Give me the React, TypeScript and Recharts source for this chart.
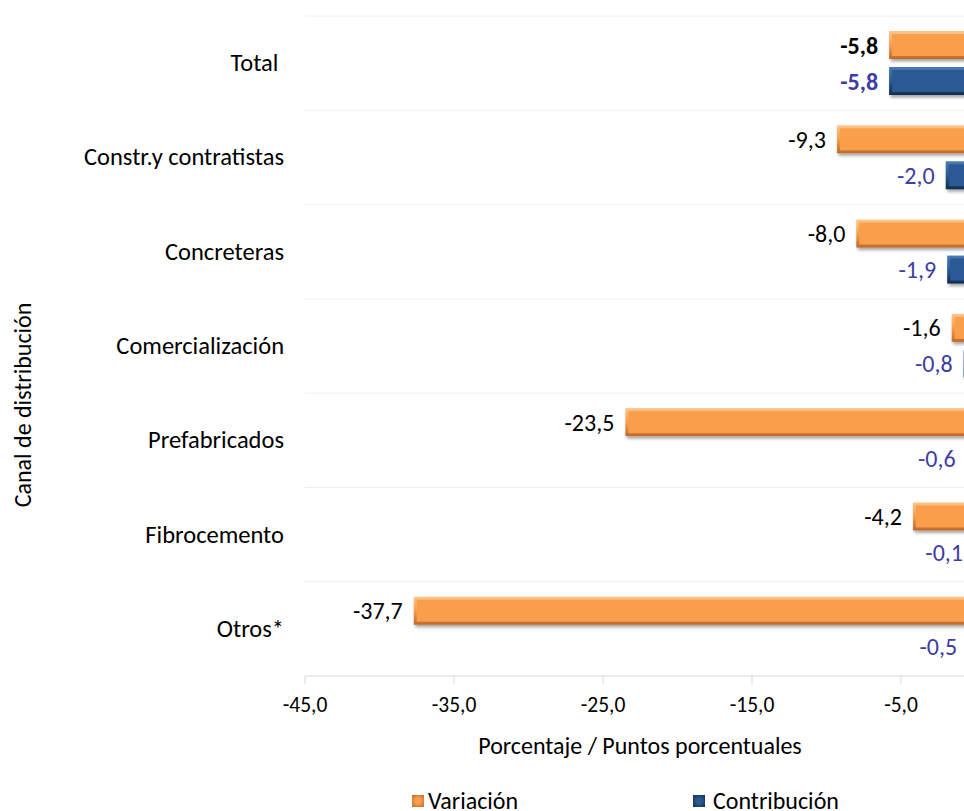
import React from 'react'
import { BarChart, Bar, XAxis, YAxis, CartesianGrid, LabelList, Legend } from 'recharts'

const categories = ['Total ', 'Constr.y contratistas', 'Concreteras', 'Comercialización', 'Prefabricados', 'Fibrocemento', 'Otros*']
const variacion = [-5.8, -9.3, -8.0, -1.6, -23.5, -4.2, -37.7]
const contribucion = [-5.8, -2.0, -1.9, -0.8, -0.6, -0.1, -0.5]
const xTicks = [-45, -35, -25, -15, -5, 5]

const data = categories.map((name, i) => ({ name, variacion: variacion[i], contribucion: contribucion[i] }))

const FONT = 'Carlito, Lato, sans-serif'
const fmt = (v: number) => v.toFixed(1).replace('.', ',')

const palette = {
  variacion: { top: '#FDC58C', main: '#F99F4C', bottom: '#C0682A', label: '#000000' },
  contribucion: { top: '#4A7BB4', main: '#2A5A93', bottom: '#122B4E', label: '#3D3DA3' },
}

function makeBar(key: 'variacion' | 'contribucion') {
  const c = palette[key]
  return (props: any) => {
    const { x, y, width, height } = props
    const left = Math.min(x, x + width)
    const w = Math.abs(width)
    if (!w) return <g />
    const inset = Math.min(3, w / 2)
    return (
      <g filter="url(#barShadow)">
        <rect x={left} y={y} width={w} height={height} fill={`url(#edge-${key})`} />
        <rect x={left + inset} y={y + inset} width={Math.max(0, w - inset * 2)} height={height - inset * 2} fill={c.main} />
      </g>
    )
  }
}

function makeLabel(key: 'variacion' | 'contribucion') {
  const c = palette[key]
  return (props: any) => {
    const { x, y, width, height, value, index } = props
    const left = Math.min(x, x + width)
    return (
      <text
        x={left - 11}
        y={y + height / 2}
        textAnchor="end"
        dominantBaseline="central"
        fontFamily={FONT}
        fontSize={24}
        fontWeight={index === 0 ? 700 : 400}
        fill={c.label}
      >
        {fmt(value)}
      </text>
    )
  }
}

const CategoryTick = (props: any) => {
  const { x, y, payload } = props
  return (
    <text x={x} y={y} textAnchor="end" dominantBaseline="central" fontFamily={FONT} fontSize={24.5} fill="#000" style={{ whiteSpace: 'pre' }}>
      {payload.value}
    </text>
  )
}

const YTitle = (props: any) => {
  const { x, y, height } = props.viewBox
  const cx = x + 22
  const cy = y + height / 2 + 59
  return (
    <text x={cx} y={cy} transform={`rotate(-90 ${cx} ${cy})`} textAnchor="middle" dominantBaseline="central" fontFamily={FONT} fontSize={24} fill="#000">
      Canal de distribución
    </text>
  )
}

const XTitle = (props: any) => {
  const { x, y } = props.viewBox
  return (
    <text x={x + 335} y={y + 69} textAnchor="middle" dominantBaseline="central" fontFamily={FONT} fontSize={24} fill="#000">
      Porcentaje / Puntos porcentuales
    </text>
  )
}

const LegendContent = () => (
  <div style={{ display: 'flex', paddingLeft: 412, fontFamily: FONT, fontSize: 24, color: '#000' }}>
    {(['variacion', 'contribucion'] as const).map((k) => (
      <div key={k} style={{ display: 'flex', alignItems: 'center', width: 281 }}>
        <span
          style={{
            display: 'inline-block',
            width: 12,
            height: 12,
            marginRight: k === 'variacion' ? 4 : 8,
            background: `radial-gradient(circle, ${palette[k].main} 30%, ${palette[k].bottom} 100%)`,
          }}
        />
        <span>{k === 'variacion' ? 'Variación' : 'Contribución'}</span>
      </div>
    ))}
  </div>
)

export default function App() {
  return (
    <div style={{ position: 'fixed', top: 0, left: 0, width: 964, height: 811, overflow: 'hidden', background: '#fff' }}>
      <BarChart
        width={1070}
        height={811}
        data={data}
        layout="vertical"
        margin={{ top: 16, right: 20, left: 0, bottom: 75 }}
        barSize={28}
        barGap={8}
      >
        <defs>
          <linearGradient id="edge-variacion" x1="0" y1="0" x2="0" y2="1">
            <stop offset="0%" stopColor={palette.variacion.top} />
            <stop offset="50%" stopColor={palette.variacion.main} />
            <stop offset="100%" stopColor={palette.variacion.bottom} />
          </linearGradient>
          <linearGradient id="edge-contribucion" x1="0" y1="0" x2="0" y2="1">
            <stop offset="0%" stopColor={palette.contribucion.top} />
            <stop offset="50%" stopColor={palette.contribucion.main} />
            <stop offset="100%" stopColor={palette.contribucion.bottom} />
          </linearGradient>
          <filter id="barShadow" x="-10%" y="-30%" width="130%" height="180%">
            <feDropShadow dx="1.5" dy="2.5" stdDeviation="1.5" floodColor="#000" floodOpacity="0.35" />
          </filter>
        </defs>
        <CartesianGrid
          vertical={false}
          stroke="#EEEEEE"
          horizontalCoordinatesGenerator={({ offset }: any) =>
            categories.map((_, i) => offset.top + (i * offset.height) / categories.length)
          }
        />
        <XAxis
          type="number"
          domain={[-45, 5]}
          ticks={xTicks}
          tickFormatter={fmt}
          stroke="#D9D9D9"
          tickSize={8}
          tickMargin={13}
          height={60}
          tick={{ fontFamily: FONT, fontSize: 21.5, fill: '#000' }}
          label={<XTitle />}
        />
        <YAxis
          type="category"
          dataKey="name"
          width={305}
          axisLine={false}
          tickLine={false}
          tickMargin={15}
          tick={<CategoryTick />}
          label={<YTitle />}
        />
        <Legend verticalAlign="middle" align="center" layout="horizontal" wrapperStyle={{ top: 786, left: 0, width: 1000 }} content={<LegendContent />} />
        <Bar dataKey="variacion" name="Variación" shape={makeBar('variacion')} isAnimationActive={false}>
          <LabelList dataKey="variacion" content={makeLabel('variacion')} />
        </Bar>
        <Bar dataKey="contribucion" name="Contribución" shape={makeBar('contribucion')} isAnimationActive={false}>
          <LabelList dataKey="contribucion" content={makeLabel('contribucion')} />
        </Bar>
      </BarChart>
    </div>
  )
}
